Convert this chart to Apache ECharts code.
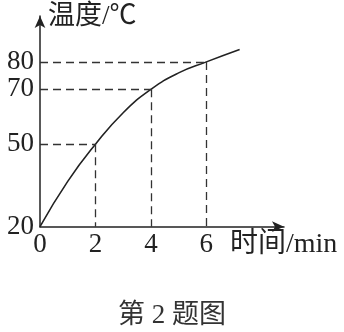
<!DOCTYPE html>
<html>
<head>
<meta charset="utf-8">
<script src="https://cdn.jsdelivr.net/npm/echarts@6/dist/echarts.min.js"></script>
<style>html,body{margin:0;padding:0;background:#fff}#c{width:344px;height:332px}</style>
</head>
<body>
<div id="c"></div>
<script>
// data
const curveX = [0, 1, 2, 3, 4, 5, 6, 7.2];
const curveY = [20, 36.5, 50, 61.5, 70, 76, 80, 84.5];
const markedX = [2, 4, 6];
const markedY = [50, 70, 80];
const xTicks = [0, 2, 4, 6];
const yTicks = [20, 50, 70, 80];
const xName = '时间/min';
const yName = '温度/℃';
const caption = '第 2 题图';

const serif = "'Liberation Serif','Noto Sans CJK SC',serif";
const ink = '#222';

const dashData = [];
markedX.forEach((x, i) => {
  const y = markedY[i];
  dashData.push([{coord: [0, y]}, {coord: [x, y]}]);
  dashData.push([{coord: [x, y]}, {coord: [x, 20]}]);
});

const chart = echarts.init(document.getElementById('c'), null, {renderer: 'canvas'});
chart.setOption({
  animation: false,
  backgroundColor: '#fff',
  title: {
    text: caption, left: 'center', top: 297,
    textStyle: {fontFamily: serif, fontSize: 27, fontWeight: 'normal', color: '#333'}
  },
  grid: {left: 40, right: 60, top: 16, bottom: 105.3, containLabel: false},
  xAxis: {
    type: 'value', min: 0, max: 8.8,
    name: xName, nameLocation: 'end', nameGap: -54,
    nameTextStyle: {fontFamily: serif, fontSize: 28, color: ink, align: 'left', verticalAlign: 'top', padding: [4, 0, 0, 0]},
    axisLine: {show: true, symbol: ['none', 'arrow'], symbolSize: [8, 12], lineStyle: {color: ink, width: 1.5}},
    axisTick: {show: false},
    splitLine: {show: false},
    axisLabel: {customValues: xTicks, fontFamily: serif, fontSize: 27, color: ink, margin: 5}
  },
  yAxis: {
    type: 'value', min: 20, max: 96.7,
    name: yName, nameLocation: 'end', nameGap: -1,
    nameTextStyle: {fontFamily: serif, fontSize: 27, color: ink, align: 'left', verticalAlign: 'middle', padding: [0, 0, 0, 8]},
    axisLine: {show: true, symbol: ['none', 'arrow'], symbolSize: [8, 12], lineStyle: {color: ink, width: 1.5}},
    axisTick: {show: false},
    splitLine: {show: false},
    axisLabel: {customValues: yTicks, fontFamily: serif, fontSize: 27, color: ink, margin: 6}
  },
  series: [{
    type: 'line',
    data: curveX.map((x, i) => [x, curveY[i]]),
    smooth: 0.5,
    showSymbol: false,
    lineStyle: {color: ink, width: 1.6},
    markLine: {
      silent: true, symbol: 'none', label: {show: false},
      lineStyle: {color: '#333', width: 1.3, type: [8, 5]},
      data: dashData
    }
  }]
});
</script>
</body>
</html>
